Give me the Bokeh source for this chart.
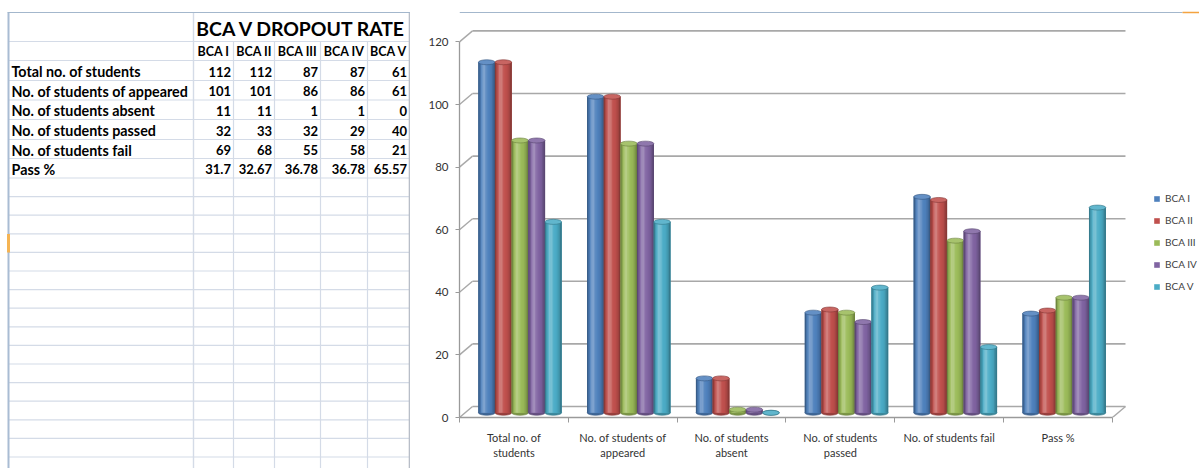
import numpy as np
from bokeh.plotting import figure
from bokeh.layouts import row
from bokeh.models import Range1d, FixedTicker, Legend, LegendItem
from bokeh.core.properties import value
from bokeh.embed import file_html
from bokeh.resources import INLINE

# ---------------- data ----------------
table_title = "BCA V DROPOUT RATE"
categories = ["Total no. of students", "No. of students of appeared", "No. of students absent",
              "No. of students passed", "No. of students fail", "Pass %"]
category_labels = ["Total no. of\nstudents", "No. of students of\nappeared", "No. of students\nabsent",
                   "No. of students\npassed", "No. of students fail", "Pass %"]
series_names = ["BCA I", "BCA II", "BCA III", "BCA IV", "BCA V"]
bca_i = [112, 101, 11, 32, 69, 31.7]
bca_ii = [112, 101, 11, 33, 68, 32.67]
bca_iii = [87, 86, 1, 32, 55, 36.78]
bca_iv = [87, 86, 1, 29, 58, 36.78]
bca_v = [61, 61, 0, 40, 21, 65.57]
series_values = [bca_i, bca_ii, bca_iii, bca_iv, bca_v]
series_colors = ["#4F81BD", "#C0504D", "#9BBB59", "#8064A2", "#4BACC6"]
y_ticks = [0, 20, 40, 60, 80, 100, 120]

FONT = "Lato"
H = 468
W_L = 410
W_R = 1199 - W_L

# ---------------- helpers ----------------
def mix(c, t):
    r, g, b = int(c[1:3], 16), int(c[3:5], 16), int(c[5:7], 16)
    if t >= 0:
        r, g, b = r + (255 - r) * t, g + (255 - g) * t, b + (255 - b) * t
    else:
        r, g, b = r * (1 + t), g * (1 + t), b * (1 + t)
    return "#%02x%02x%02x" % (int(round(r)), int(round(g)), int(round(b)))

def shade_profile(u):
    return 0.30 * np.exp(-((u - 0.33) / 0.16) ** 2) - 0.38 * abs(2 * u - 1) ** 3

def no_align(p):
    try:
        p.frame_align = False
    except Exception:
        pass

# ---------------- left: spreadsheet table ----------------
tbl = figure(width=W_L, height=H, x_range=Range1d(0, W_L), y_range=Range1d(H, 0),
             output_backend="svg", toolbar_location=None, min_border=0,
             min_border_left=0, min_border_right=0, min_border_top=0, min_border_bottom=0,
             x_axis_location=None, y_axis_location=None, title=None)
no_align(tbl)
tbl.grid.visible = False
tbl.outline_line_color = None
tbl.background_fill_color = "white"

col_edges = [8, 193, 233, 274, 320, 367, 409]
data_row_lines = [60, 80, 99.5, 119, 139, 158, 177.5]
row_lines = [41] + data_row_lines + list(177.5 + 18.6 * np.arange(1, 16))
grid_col = "#D4DBE7"

# horizontal grid lines
tbl.segment(x0=[col_edges[0]] * len(row_lines), x1=[col_edges[-1]] * len(row_lines),
            y0=row_lines, y1=row_lines, line_color=grid_col, line_width=1.2)
# vertical grid lines (inner columns start below the merged title)
tbl.segment(x0=col_edges[2:-1], x1=col_edges[2:-1], y0=[41] * 4, y1=[H] * 4,
            line_color=grid_col, line_width=1.2)
tbl.segment(x0=[col_edges[1]], x1=[col_edges[1]], y0=[12], y1=[H], line_color=grid_col, line_width=1.4)
tbl.segment(x0=[col_edges[-1]], x1=[col_edges[-1]], y0=[12], y1=[H], line_color="#B8BEC8", line_width=1.6)
# sheet border lines
tbl.segment(x0=[col_edges[0]], x1=[col_edges[0]], y0=[12], y1=[H], line_color="#A9BCD3", line_width=2)
tbl.segment(x0=[7], x1=[W_L], y0=[12], y1=[12], line_color="#A3B7CC", line_width=1.2)
tbl.quad(left=[6.5], right=[9.5], top=[233.5], bottom=[252], fill_color="#F5B453", line_color=None)

# title
tbl.text(x=[(col_edges[1] + col_edges[-1]) / 2], y=[27.5], text=[table_title],
         text_font=value(FONT), text_font_style="bold", text_font_size="19.4px",
         text_align="center", text_baseline="middle", text_color="#000000")
# header row
hx = [(col_edges[k + 1] + col_edges[k + 2]) / 2 for k in range(len(series_names))]
tbl.text(x=hx, y=[51] * len(series_names), text=series_names, text_font=value(FONT),
         text_font_style="bold", text_font_size="12.5px", text_align="center",
         text_baseline="middle", text_color="#000000")
# row labels and values
row_centers = [(data_row_lines[i] + data_row_lines[i + 1]) / 2 + 1 for i in range(len(categories))]
tbl.text(x=[11] * len(categories), y=row_centers, text=categories, text_font=value(FONT),
         text_font_style="bold", text_font_size="14.3px", text_align="left",
         text_baseline="middle", text_color="#000000")
vx, vy, vt = [], [], []
for k, vals in enumerate(series_values):
    for i, v in enumerate(vals):
        vx.append(col_edges[k + 2] - 2.5)
        vy.append(row_centers[i])
        vt.append(f"{v:g}")
tbl.text(x=vx, y=vy, text=vt, text_font=value(FONT), text_font_style="bold",
         text_font_size="13px", text_align="right", text_baseline="middle", text_color="#000000")

# ---------------- right: 3D-style cylinder chart ----------------
FRAME_L = 49           # px from chart figure left to plot frame
FRAME_BOTTOM = 417     # px from top of page
px_x = 108.83
px_y = 3.13
x_end = (W_R - FRAME_L) / px_x
y_end = FRAME_BOTTOM / px_y

chart = figure(width=W_R, height=H, x_range=Range1d(0, x_end), y_range=Range1d(0, y_end),
               output_backend="svg", toolbar_location=None, title=None,
               min_border_left=FRAME_L, min_border_right=0, min_border_top=0,
               min_border_bottom=H - FRAME_BOTTOM)
no_align(chart)
chart.grid.visible = False
chart.outline_line_color = None
chart.background_fill_color = "white"
chart.border_fill_color = "white"

axis_col = "#9A9A9A"
txt_col = "#333333"

ya = chart.yaxis[0]
ya.ticker = FixedTicker(ticks=y_ticks)
ya.bounds = (0, 120)
ya.axis_line_color = axis_col
ya.axis_line_width = 1.3
ya.major_tick_line_color = axis_col
ya.major_tick_out = 4
ya.major_tick_in = 0
ya.minor_tick_out = 0
ya.minor_tick_in = 0
ya.major_label_standoff = 7
ya.major_label_text_font = FONT
ya.major_label_text_font_size = "11.5px"
ya.major_label_text_color = txt_col

xa = chart.xaxis[0]
xa.ticker = FixedTicker(ticks=[i + 0.5 for i in range(len(categories))],
                        minor_ticks=list(range(len(categories) + 1)))
xa.major_label_overrides = {i + 0.5: lbl for i, lbl in enumerate(category_labels)}
xa.bounds = (0, len(categories))
xa.axis_line_color = axis_col
xa.axis_line_width = 1.3
xa.major_tick_out = 0
xa.major_tick_in = 0
xa.minor_tick_line_color = axis_col
xa.minor_tick_out = 5
xa.minor_tick_in = 0
xa.major_label_standoff = 8
xa.major_label_text_font = FONT
xa.major_label_text_font_size = "11px"
xa.major_label_text_color = txt_col

# 3D walls: back-wall gridlines and left-wall diagonals
dx = 13 / px_x
dy = 11 / px_y
n_cat = len(categories)
yt = np.array(y_ticks, dtype=float)
wall_col = "#A8A8A8"
chart.segment(x0=[0] * len(yt), y0=yt, x1=[dx] * len(yt), y1=yt + dy, line_color=wall_col, line_width=1.4)
chart.segment(x0=[dx] * len(yt), y0=yt + dy, x1=[n_cat + dx] * len(yt), y1=yt + dy,
              line_color=wall_col, line_width=1.6)
chart.segment(x0=[n_cat], y0=[0], x1=[n_cat + dx], y1=[dy], line_color=wall_col, line_width=1.4)

# sheet top border continuing over the chart
y_top_line = (FRAME_BOTTOM - 12) / px_y
x_orange = (1182 - (W_L + FRAME_L)) / px_x
chart.segment(x0=[0], x1=[x_orange], y0=[y_top_line], y1=[y_top_line], line_color="#A3B7CC", line_width=1.2)
chart.segment(x0=[x_orange], x1=[x_end], y0=[y_top_line], y1=[y_top_line], line_color="#F4A340", line_width=1.6)

# cylinders
bar_w = 0.153
first_off = 0.25
depth = 1.5
ell_h = 5 / px_y
N = 12
cat_idx = np.arange(n_cat)
legend_items = []
for k, (name, vals, col) in enumerate(zip(series_names, series_values, series_colors)):
    xs = cat_idx + first_off + k * bar_w
    top = np.array(vals, dtype=float) + depth
    dark = mix(col, -0.32)
    chart.ellipse(x=xs, y=[depth] * n_cat, width=bar_w, height=ell_h,
                  fill_color=mix(col, -0.2), line_color=dark, line_width=0.6)
    base = chart.vbar(x=xs, bottom=depth, top=top, width=bar_w, fill_color=col, line_color=None)
    legend_items.append(LegendItem(label=name, renderers=[base]))
    for j in range(N):
        u = (j + 0.5) / N
        chart.vbar(x=xs - bar_w / 2 + u * bar_w, bottom=depth, top=top, width=bar_w / N * 1.25,
                   fill_color=mix(col, float(shade_profile(u))), line_color=None)
    chart.ellipse(x=xs, y=top, width=bar_w, height=ell_h, fill_color=mix(col, 0.12),
                  line_color=dark, line_width=0.6)

legend = Legend(items=legend_items, location=(694, 121), orientation="vertical",
                label_text_font=FONT, label_text_font_size="10px", label_text_color="#404040",
                glyph_width=7, glyph_height=7, label_height=20, spacing=2, padding=0, margin=0,
                label_standoff=5, border_line_color=None, background_fill_alpha=0)
chart.add_layout(legend)

layout = row(tbl, chart, spacing=0)
open("out.html", "w").write(file_html(layout, INLINE))
